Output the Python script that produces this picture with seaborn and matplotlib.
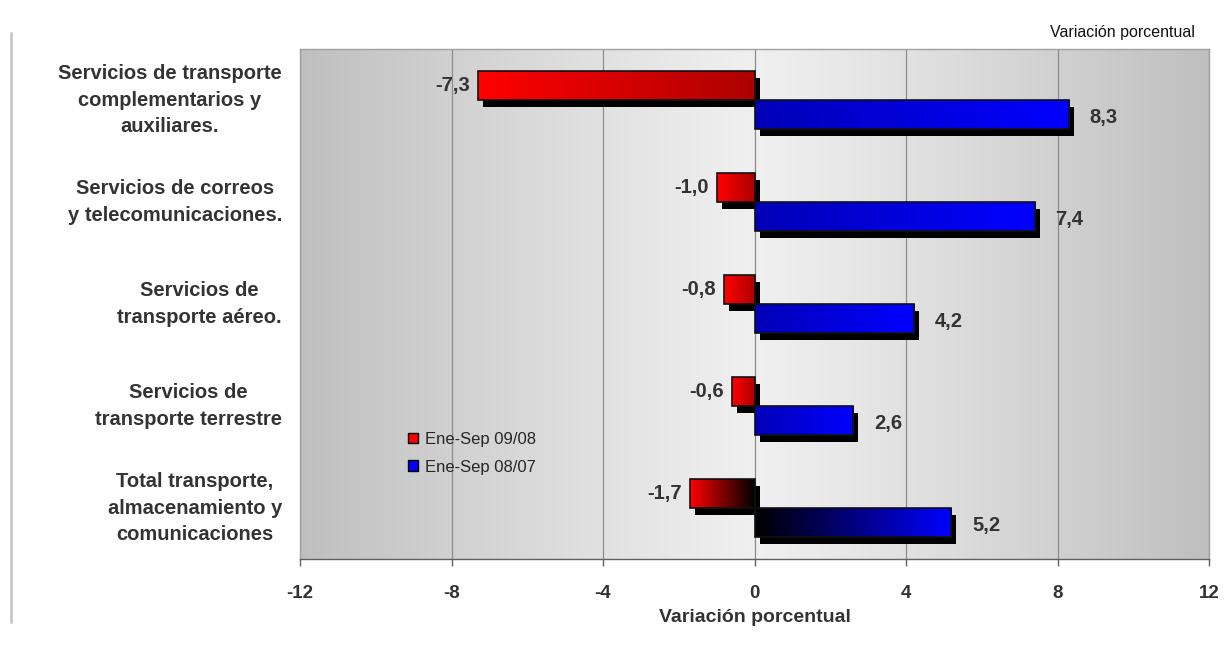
import numpy as np
import pandas as pd
import matplotlib
matplotlib.use("Agg")
import matplotlib.pyplot as plt
import matplotlib.transforms as mtransforms
from matplotlib.patches import Rectangle, Patch
from matplotlib.lines import Line2D
import seaborn as sns

# ---- data -------------------------------------------------------------
categories = [
    "Servicios de transporte\ncomplementarios y\nauxiliares.",
    "Servicios de correos\ny telecomunicaciones.",
    "Servicios de\ntransporte aéreo.",
    "Servicios de\ntransporte terrestre",
    "Total transporte,\nalmacenamiento y\ncomunicaciones",
]
periods = ["Ene-Sep 09/08", "Ene-Sep 08/07"]
var_0908 = [-7.3, -1.0, -0.8, -0.6, -1.7]
var_0807 = [8.3, 7.4, 4.2, 2.6, 5.2]
x_ticks = [-12, -8, -4, 0, 4, 8, 12]

df = pd.DataFrame({
    "Sector": categories * 2,
    "Periodo": [periods[0]] * len(categories) + [periods[1]] * len(categories),
    "Variación": var_0908 + var_0807,
})

# ---- style ------------------------------------------------------------
sns.set_theme(style="white")
plt.rcParams["font.family"] = ["Liberation Sans", "DejaVu Sans"]
text_color = "#333333"

W, H = 1227, 650
fig = plt.figure(figsize=(W / 100, H / 100), dpi=100)
ax = fig.add_axes([300 / W, 91 / H, 909 / W, 510 / H])
ax.set_facecolor("none")

sns.barplot(
    data=df, y="Sector", x="Variación", hue="Periodo",
    order=categories, hue_order=periods, orient="h",
    palette=["#ff0000", "#0000ff"], width=0.56, dodge=True,
    errorbar=None, legend=False, ax=ax,
)

ylim = (len(categories) - 0.5, -0.5)
xlim = (x_ticks[0], x_ticks[-1])

# background: grey at the edges, light towards zero
xs = np.linspace(-1, 1, 400)
shade = 0.94 - 0.19 * np.abs(xs) ** 1.1
bg = np.dstack([shade, shade, shade])
ax.imshow(bg, extent=[xlim[0], xlim[1], ylim[0], ylim[1]], aspect="auto",
          zorder=0, interpolation="bilinear")

shadow_tr = mtransforms.offset_copy(ax.transData, fig=fig, x=5, y=-7, units="dots")


def gradient(c_left, c_right, n=200):
    t = np.linspace(0, 1, n)[:, None]
    a = np.array(c_left)[None, :]
    b = np.array(c_right)[None, :]
    return (a * (1 - t) + b * t)[None, :, :]


last = len(categories) - 1
for p in list(ax.patches):
    x0 = min(p.get_x(), p.get_x() + p.get_width())
    x1 = max(p.get_x(), p.get_x() + p.get_width())
    y0 = p.get_y()
    h = p.get_height()
    yc = y0 + h / 2
    idx = int(round(yc))
    negative = p.get_width() < 0
    if negative:
        cl, cr = (1.0, 0.0, 0.0), ((0.0, 0.0, 0.0) if idx == last else (0.68, 0.0, 0.0))
    else:
        cl, cr = ((0.0, 0.0, 0.0) if idx == last else (0.0, 0.0, 0.72)), (0.0, 0.0, 1.0)
    # drop shadow
    ax.add_patch(Rectangle((x0, y0), x1 - x0, h, transform=shadow_tr,
                           facecolor="black", edgecolor="none", zorder=2.5))
    # gradient fill
    ax.imshow(gradient(cl, cr), extent=[x0, x1, y0 + h, y0], aspect="auto",
              zorder=3, interpolation="bilinear")
    p.set_facecolor("none")
    p.set_edgecolor("#111111")
    p.set_linewidth(1.2)
    p.set_zorder(3.5)

# value labels
bar_h = 0.28
for i, v in enumerate(var_0908):
    ax.annotate(f"{v:.1f}".replace(".", ","), xy=(v, i - bar_h / 2),
                xytext=(-6, 0), textcoords="offset points",
                ha="right", va="center", fontsize=14.5, fontweight="bold",
                color=text_color, zorder=5)
for i, v in enumerate(var_0807):
    ax.annotate(f"{v:.1f}".replace(".", ","), xy=(v, i + bar_h / 2),
                xytext=(15, -2), textcoords="offset points",
                ha="left", va="center", fontsize=14.5, fontweight="bold",
                color=text_color, zorder=5)

ax.set_xlim(*xlim)
ax.set_ylim(*ylim)
ax.set_xticks(x_ticks)
ax.set_xticklabels([str(t) for t in x_ticks])
ax.xaxis.grid(True, color="#8c8c8c", linewidth=0.9)
ax.set_axisbelow(True)

for side in ("left", "top", "right"):
    ax.spines[side].set_color("#a0a0a0")
    ax.spines[side].set_linewidth(1.0)
ax.spines["bottom"].set_color("#606060")
ax.spines["bottom"].set_linewidth(1.0)
for s in ax.spines.values():
    s.set_zorder(6)

ax.tick_params(axis="x", direction="out", length=5, width=1, color="#606060",
               pad=14, labelsize=13.5, labelcolor=text_color, bottom=True)
for lab in ax.get_xticklabels():
    lab.set_fontweight("bold")
ax.tick_params(axis="y", length=0, pad=13, labelsize=14.5, labelcolor=text_color)
for lab in ax.get_yticklabels():
    lab.set_fontweight("bold")
    lab.set_multialignment("center")
    lab.set_linespacing(1.5)
    lab.set_verticalalignment("center")

ax.set_ylabel("")
ax.set_xlabel("Variación porcentual", fontsize=14, fontweight="bold",
              color=text_color, labelpad=5)

# legend
handles = [Patch(facecolor="#ff0000", edgecolor="black", linewidth=1.0, label=periods[0]),
           Patch(facecolor="#0000ff", edgecolor="black", linewidth=1.0, label=periods[1])]
ax.legend(handles=handles, loc="upper left", bbox_to_anchor=(0.112, 0.262),
          frameon=False, fontsize=12, handlelength=0.6, handleheight=0.6,
          handletextpad=0.4, labelspacing=0.75, borderaxespad=0)

fig.text(1195 / W, 1 - 33 / H, "Variación porcentual", ha="right", va="center",
         fontsize=11.5, color="#111111")
fig.add_artist(Line2D([11 / W, 11 / W], [1 - 33 / H, 1 - 622 / H],
                      transform=fig.transFigure, color="#c8c8c8", linewidth=2))

fig.savefig("out.png", dpi=100)
